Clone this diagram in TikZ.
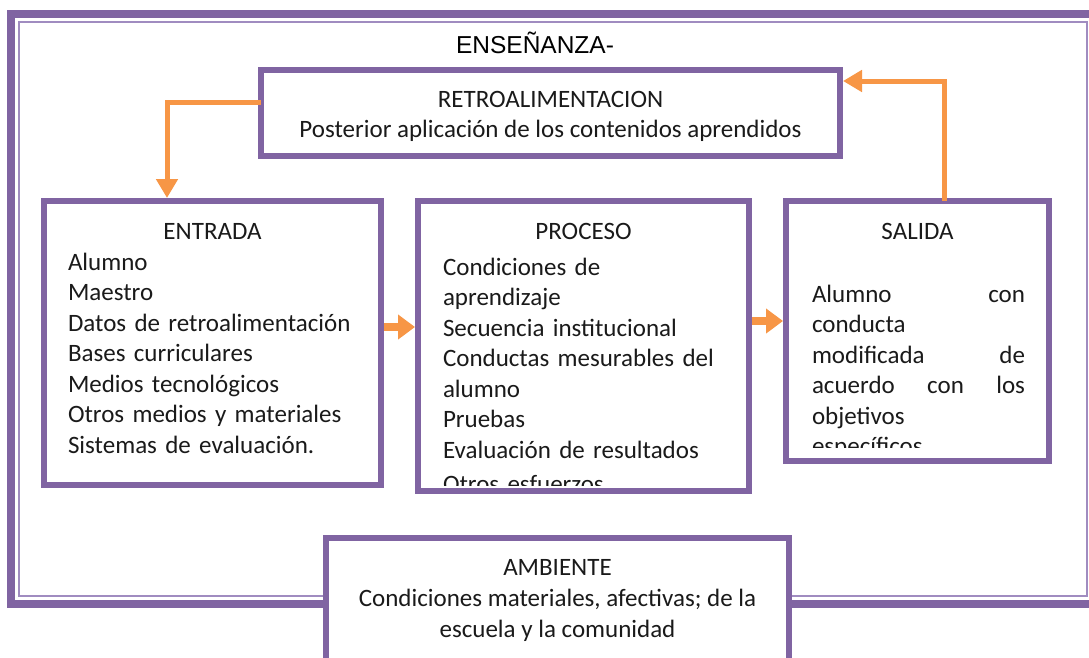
\documentclass[tikz,border=0pt]{standalone}
\usepackage{fontspec}
\setmainfont{Carlito}
\newfontfamily\arialf{Liberation Sans}
\usetikzlibrary{arrows.meta}
\definecolor{purp}{HTML}{8064A2}
\definecolor{purpl}{HTML}{A08CC0}
\definecolor{org}{HTML}{F79646}
\definecolor{txt}{HTML}{1A1A1A}
\tikzset{
  boxstyle/.style={draw=purp, line width=6.5pt, fill=white, rectangle, inner sep=0pt, outer sep=0pt},
  txtstyle/.style={inner sep=0pt, outer sep=0pt, text=txt, font=\fontsize{25}{30.5}\selectfont},
  farrow/.style={draw=org, line width=5pt, -{Triangle[length=19pt,width=21pt]}},
  sarrow/.style={draw=org, line width=8pt, -{Triangle[length=17pt,width=24pt]}}
}
\begin{document}
\begin{tikzpicture}[x=1pt,y=-1pt]
\clip (0,0) rectangle (1089,657);
\useasboundingbox (0,0) rectangle (1089,657);
\fill[white] (0,0) rectangle (1089,657);
% outer frame
\draw[purp, line width=8pt] (11,13.5) rectangle (1097,604);
\draw[purpl, line width=2pt] (19,22) rectangle (1087,596);
% title
\node[txtstyle, text=black, font=\arialf\fontsize{24.5}{29}\selectfont, anchor=base] (title) at (535,53) {ENSEÑANZA-};
% boxes
\node[boxstyle, minimum width=579pt, minimum height=86pt] (retro) at (550.5,113) {};
\node[boxstyle, minimum width=337pt, minimum height=284pt] (entrada) at (212.5,343) {};
\node[boxstyle, minimum width=331pt, minimum height=290pt] (proceso) at (583.5,346) {};
\node[boxstyle, minimum width=263pt, minimum height=260pt] (salida) at (917.5,331) {};
\node[boxstyle, minimum width=463pt, minimum height=130pt] (ambiente) at (557.5,603) {};
% retro text
\node[txtstyle, anchor=base] (retroT) at (550.5,107) {RETROALIMENTACION};
\node[txtstyle, anchor=base] (retroL) at (550.5,137) {Posterior aplicación de los contenidos aprendidos};
% entrada text
\node[txtstyle, anchor=base] (entradaT) at (212.5,239) {ENTRADA};
\node[txtstyle, anchor=base west, align=left, text width=300pt] (entradaL) at (68,270) {Alumno\\Maestro\\Datos de retroalimentación\\Bases curriculares\\Medios tecnológicos\\Otros medios y materiales\\Sistemas de evaluación.};
% proceso text
\node[txtstyle, anchor=base] (procesoT) at (583.5,239) {PROCESO};
\begin{scope}
\clip (418,205) rectangle (749,485);
\node[txtstyle, anchor=base west, align=left, text width=300pt] (procesoL) at (443,275) {Condiciones de\\aprendizaje\\Secuencia institucional\\Conductas mesurables del\\alumno\\Pruebas\\Evaluación de resultados\\[3.5pt]Otros esfuerzos};
\end{scope}
% salida text
\node[txtstyle, anchor=base] (salidaT) at (917.5,239) {SALIDA};
\begin{scope}
\clip (790,205) rectangle (1045,447);
\node[txtstyle, anchor=base west, align=left, text width=213pt] (salidaL) at (812,302) {Alumno\hfill con\\conducta\\modificada\hfill de\\acuerdo\hfill con\hfill los\\objetivos\\específicos};
\end{scope}
% ambiente text
\node[txtstyle, anchor=base] (ambT) at (557.5,575) {AMBIENTE};
\node[txtstyle, anchor=base] (ambL1) at (557.5,606) {Condiciones materiales, afectivas; de la};
\node[txtstyle, anchor=base] (ambL2) at (557.5,637) {escuela y la comunidad};
% connectors
\coordinate (fbL) at (167,102);
\coordinate (fbR) at (944,81);
\coordinate (a1) at (0,327);
\coordinate (a2) at (0,321);
\draw[farrow] (retro.west |- fbL) -| ([yshift=3pt]entrada.north -| fbL);
\draw[farrow] (salida.north -| fbR) |- ([xshift=3pt]retro.east |- fbR);
\draw[sarrow] ([xshift=3pt]entrada.east |- a1) -- ([xshift=-3pt]proceso.west |- a1);
\draw[sarrow] ([xshift=3pt]proceso.east |- a2) -- ([xshift=-3pt]salida.west |- a2);
\end{tikzpicture}
\end{document}
